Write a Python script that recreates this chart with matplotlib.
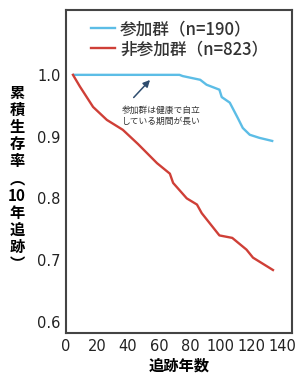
import matplotlib
matplotlib.use("Agg")
import matplotlib.pyplot as plt

plt.rcParams["font.family"] = ["DejaVu Sans", "Noto Sans CJK JP"]

# 参加群（追跡年数, 累積生存率）
part_x = [5.2, 20, 40, 60, 73.3, 75.4, 86.7, 90.8, 99.1, 100.6, 105.8, 111, 114.2, 118.7, 124.9, 133.2]
part_y = [1.0, 1.0, 1.0, 1.0, 1.0, 0.998, 0.992, 0.984, 0.976, 0.964, 0.955, 0.93, 0.914, 0.903, 0.898, 0.893]

# 非参加群
non_x = [4.5, 9, 17.5, 26.4, 36.7, 46.5, 58.8, 67.1, 69.2, 78, 84.6, 87.7, 99.1, 107.4, 116.6, 120.8, 133.7]
non_y = [1.0, 0.981, 0.948, 0.927, 0.911, 0.888, 0.857, 0.84, 0.825, 0.80, 0.79, 0.776, 0.74, 0.736, 0.717, 0.704, 0.684]

labels = ["参加群（n=190）", "非参加群（n=823）"]
xticks = [0, 20, 40, 60, 80, 100, 120, 140]
yticks = [0.6, 0.7, 0.8, 0.9, 1.0]

CJK = ["Noto Sans CJK JP", "DejaVu Sans"]

fig = plt.figure(figsize=(3.0, 3.74), dpi=100)
ax = fig.add_axes([66 / 300, 1 - 333 / 374, 226 / 300, 323 / 374])

ax.plot(part_x, part_y, color="#5cbde6", lw=1.7, label=labels[0])
ax.plot(non_x, non_y, color="#cf3f37", lw=1.7, label=labels[1])

ax.set_xlim(0, 146)
ax.set_ylim(0.582, 1.105)
ax.set_xticks(xticks)
ax.set_yticks(yticks)
ax.set_yticklabels([f"{v:.1f}" for v in yticks])
ax.tick_params(length=0, labelsize=10.5, colors="#222222", pad=4)
for s in ax.spines.values():
    s.set_color("#444444")
    s.set_linewidth(1.5)

ax.annotate("", xy=(55.5, 0.995), xytext=(42.5, 0.960),
            arrowprops=dict(arrowstyle="-|>", color="#2f4d6e", lw=1.1,
                            mutation_scale=10))
ax.text(61.3, 0.934, "参加群は健康で自立\nしている期間が長い", ha="center",
        va="center", fontsize=6.3, color="#333333", linespacing=1.25,
        family=CJK)

leg = fig.legend(loc="center left", bbox_to_anchor=(91 / 300, 1 - 39 / 374),
                 frameon=False, handlelength=1.45, handletextpad=0.3,
                 labelspacing=0.12, borderpad=0, borderaxespad=0,
                 prop=dict(family=CJK, size=12, weight="medium"))
for t in leg.get_texts():
    t.set_color("#333333")

fig.text(17 / 300, 1 - 178.5 / 374, "累\n積\n生\n存\n率\n︵\n10\n年\n追\n跡\n︶",
         ha="center", va="center", fontsize=11, fontweight="bold",
         linespacing=1.08, family=CJK)
ax.set_xlabel("追跡年数", fontsize=11, fontweight="bold", labelpad=3,
              family=CJK)

fig.savefig("out.png", dpi=100)
